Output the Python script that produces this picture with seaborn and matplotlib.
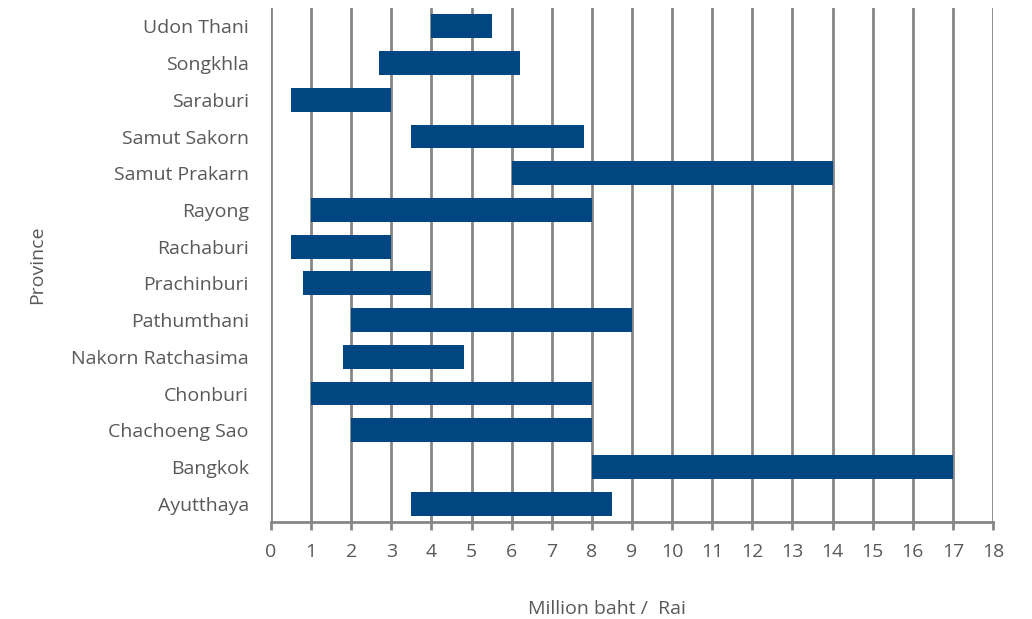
import matplotlib
matplotlib.use("Agg")
import matplotlib.pyplot as plt
import seaborn as sns
import pandas as pd

provinces = ["Udon Thani", "Songkhla", "Saraburi", "Samut Sakorn", "Samut Prakarn",
             "Rayong", "Rachaburi", "Prachinburi", "Pathumthani", "Nakorn Ratchasima",
             "Chonburi", "Chachoeng Sao", "Bangkok", "Ayutthaya"]
low = [4.0, 2.7, 0.5, 3.5, 6.0, 1.0, 0.5, 0.8, 2.0, 1.8, 1.0, 2.0, 8.0, 3.5]
high = [5.5, 6.2, 3.0, 7.8, 14.0, 8.0, 3.0, 4.0, 9.0, 4.8, 8.0, 8.0, 17.0, 8.5]
xticks = list(range(0, 19))

sns.set_theme(style="white")
plt.rcParams['font.family'] = ['Open Sans', 'DejaVu Sans']

df = pd.DataFrame({"Province": provinces, "low": low, "high": high})
df["span"] = df["high"] - df["low"]

fig = plt.figure(figsize=(10.32, 6.19), dpi=100)
ax = fig.add_axes([0.2626, 0.1567, 0.6996, 0.8303])

sns.barplot(data=df, y="Province", x="span", orient="h", color="#004680",
            saturation=1, width=0.65, ax=ax, zorder=3, linewidth=0, edgecolor="none")
for patch, s in zip(ax.patches, df["low"]):
    patch.set_x(s)

grey = "#595959"
ax.set_xlim(0, 18)
ax.set_ylim(len(provinces) - 0.5, -0.5)
ax.set_xticks(xticks)
ax.xaxis.grid(True, color="#868686", linewidth=2, zorder=0)
ax.yaxis.grid(False)
ax.set_axisbelow(True)
for side in ["top", "right", "left"]:
    ax.spines[side].set_visible(False)
ax.spines["bottom"].set_color("#868686")
ax.spines["bottom"].set_linewidth(2)
ax.tick_params(axis="x", bottom=True, length=6, width=2, color="#868686",
               labelsize=14, labelcolor=grey, pad=9)
ax.tick_params(axis="y", left=False, labelsize=14, labelcolor=grey, pad=10)
ax.set_xlabel("Million baht /  Rai", fontsize=14, color=grey)
ax.set_ylabel("Province", fontsize=14, color=grey)
ax.xaxis.set_label_coords(0.465, -0.152)
ax.yaxis.set_label_coords(-0.311, 0.5)

fig.savefig("out.png", dpi=100)
